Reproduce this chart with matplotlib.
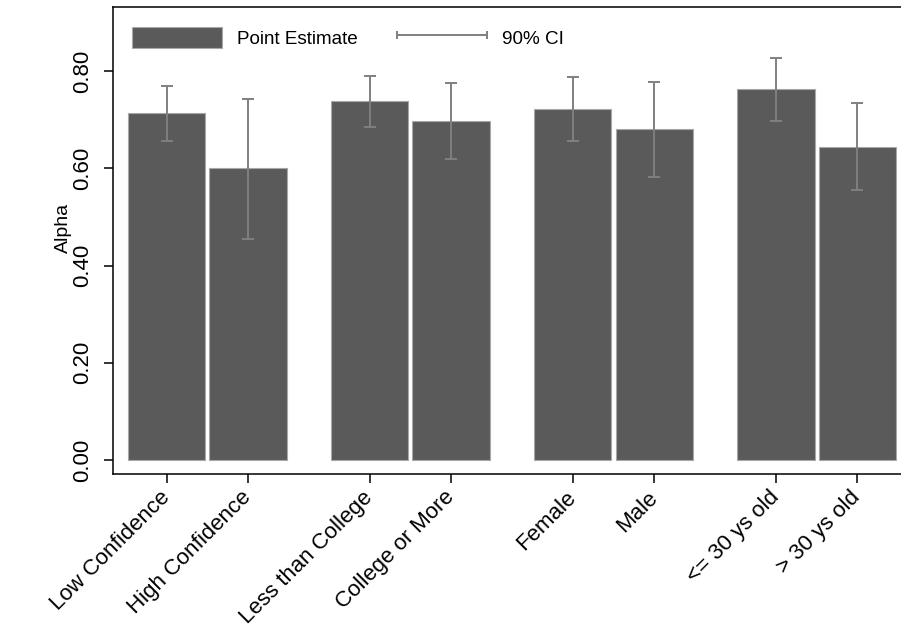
import matplotlib
matplotlib.use('Agg')
import matplotlib.pyplot as plt
from matplotlib.patches import Patch
from matplotlib.lines import Line2D
from matplotlib.legend_handler import HandlerLine2D

# 数据
labels = ['Low Confidence', 'High Confidence', 'Less than College', 'College or More',
          'Female', 'Male', '<= 30 ys old', '> 30 ys old']
estimates = [0.714, 0.600, 0.738, 0.698, 0.723, 0.681, 0.763, 0.645]
ci_low = [0.657, 0.455, 0.685, 0.619, 0.657, 0.582, 0.698, 0.555]
ci_high = [0.770, 0.744, 0.790, 0.776, 0.788, 0.778, 0.827, 0.735]
y_ticks = [0.0, 0.2, 0.4, 0.6, 0.8]

plt.rcParams['font.family'] = ['Liberation Sans', 'DejaVu Sans']

bar_color = '#5a5a5a'
ci_color = '#808080'

# 每组两根柱子, 组间留空
positions = [(i // 2) * 2.5 + (i % 2) for i in range(len(labels))]
yerr = [[e - lo for e, lo in zip(estimates, ci_low)],
        [hi - e for e, hi in zip(estimates, ci_high)]]

fig = plt.figure(figsize=(9.01, 6.33), dpi=100)
ax = fig.add_axes([113.3 / 901, 1 - 474.3 / 633, 1 - 113.3 / 901, (474.3 - 7.3) / 633])

ax.bar(positions, estimates, width=0.95, color=bar_color, edgecolor='#a8a8a8', linewidth=0.8)
ax.errorbar(positions, estimates, yerr=yerr, fmt='none', ecolor=ci_color,
            elinewidth=1.4, capsize=4.3, capthick=1.4)

ax.set_xlim(-0.659, 9.04)
ax.set_ylim(-0.0294, 0.9317)

ax.set_yticks(y_ticks)
ax.set_yticklabels([f'{v:.2f}' for v in y_ticks], rotation=90, va='center')
ax.set_xticks(positions)
ax.set_xticklabels(labels, rotation=45, ha='right', va='center', rotation_mode='anchor')

ax.tick_params(axis='both', direction='out', length=6.5, width=1.1, labelsize=16)
ax.tick_params(axis='y', pad=8)
ax.tick_params(axis='x', pad=8)
ax.set_ylabel('Alpha', fontsize=14)
ax.yaxis.set_label_coords(-0.052, 0.527)

ax.spines['right'].set_visible(False)
for s in ['left', 'top', 'bottom']:
    ax.spines[s].set_linewidth(1.1)

# 图例
handles = [Patch(facecolor=bar_color, edgecolor='#a8a8a8', linewidth=0.8),
           Line2D([0, 1], [0, 0], color=ci_color, lw=1.4, marker='|', markersize=6, markeredgewidth=1.4)]
leg = ax.legend(handles, ['Point Estimate', '90% CI'], ncol=2, frameon=False,
                loc='upper left', bbox_to_anchor=(131.7 / 901, 1 - 26.7 / 633),
                bbox_transform=fig.transFigure, borderaxespad=0, borderpad=0,
                fontsize=13.6, handlelength=4.76, handleheight=1.35,
                handletextpad=0.8, columnspacing=2.1, numpoints=2,
                handler_map={Line2D: HandlerLine2D(marker_pad=0, numpoints=2)})

plt.savefig('out.png', dpi=100)
